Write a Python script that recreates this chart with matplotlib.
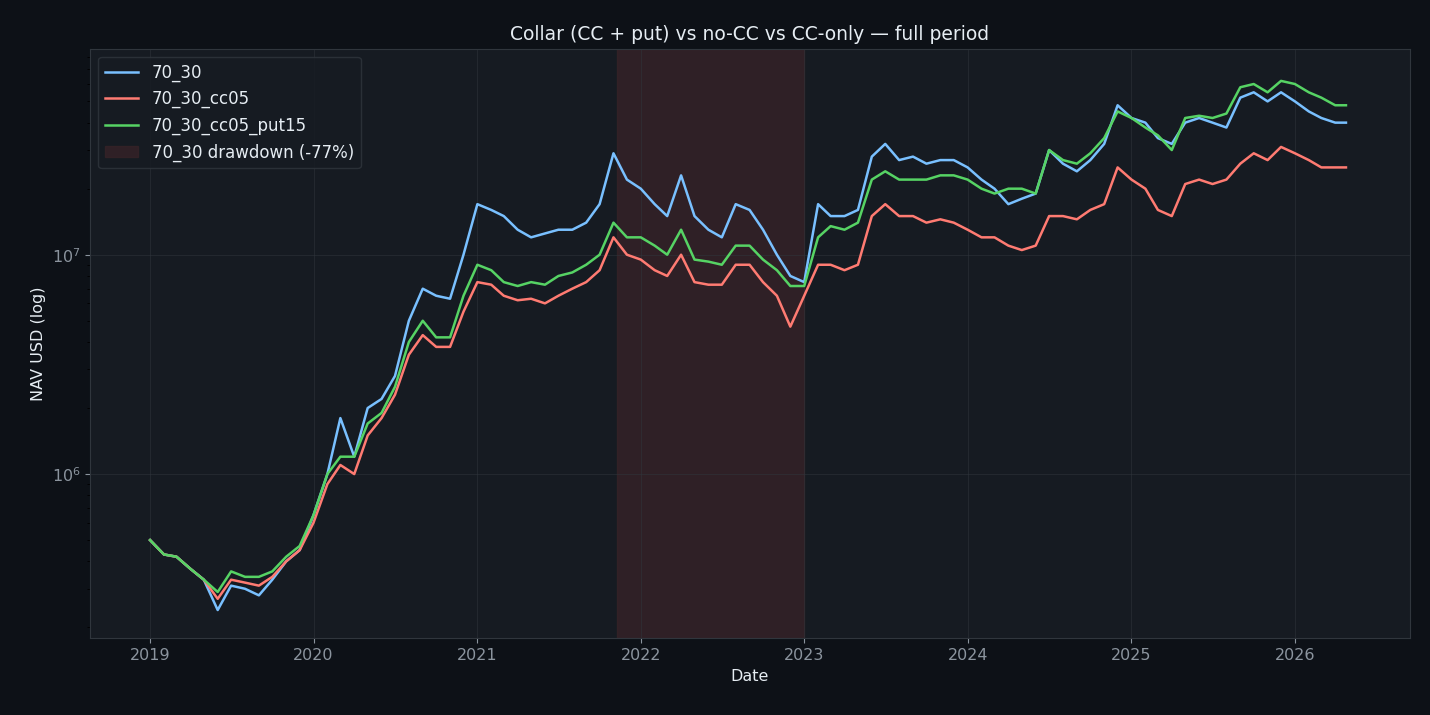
import matplotlib
matplotlib.use("Agg")
import matplotlib.pyplot as plt
import pandas as pd
import numpy as np

start = "2019-01-01"
nav_70_30 = [0.5,0.43,0.42,0.37,0.33,0.24,0.31,0.30,0.28,0.33,0.40,0.45,
             0.65,1.0,1.8,1.2,2.0,2.2,2.8,5.0,7.0,6.5,6.3,10,
             17,16,15,13,12,12.5,13,13,14,17,29,22,
             20,17,15,23,15,13,12,17,16,13,10,8,
             7.5,17,15,15,16,28,32,27,28,26,27,27,
             25,22,20,17,18,19,30,26,24,27,32,48,
             42,40,34,32,40,42,40,38,52,55,50,55,
             50,45,42,40,40]
nav_cc05 = [0.5,0.43,0.42,0.37,0.33,0.27,0.33,0.32,0.31,0.34,0.40,0.45,
            0.6,0.9,1.1,1.0,1.5,1.8,2.3,3.5,4.3,3.8,3.8,5.5,
            7.5,7.3,6.5,6.2,6.3,6.0,6.5,7,7.5,8.5,12,10,
            9.5,8.5,8,10,7.5,7.3,7.3,9,9,7.5,6.5,4.7,
            6.5,9,9,8.5,9,15,17,15,15,14,14.5,14,
            13,12,12,11,10.5,11,15,15,14.5,16,17,25,
            22,20,16,15,21,22,21,22,26,29,27,31,
            29,27,25,25,25]
nav_put15 = [0.5,0.43,0.42,0.37,0.33,0.29,0.36,0.34,0.34,0.36,0.42,0.47,
             0.65,1.0,1.2,1.2,1.7,1.9,2.5,4.0,5.0,4.2,4.2,6.5,
             9,8.5,7.5,7.2,7.5,7.3,8,8.3,9,10,14,12,
             12,11,10,13,9.5,9.3,9,11,11,9.5,8.5,7.2,
             7.2,12,13.5,13,14,22,24,22,22,22,23,23,
             22,20,19,20,20,19,30,27,26,29,34,45,
             42,38,35,30,42,43,42,44,58,60,55,62,
             60,55,52,48,48]
dd_start, dd_end = "2021-11-08", "2023-01-01"

dates = pd.date_range(start, periods=len(nav_70_30), freq="MS")
dates = dates[:-1].append(pd.DatetimeIndex([pd.Timestamp("2026-04-25")]))
bg = "#0d1117"; ax_bg = "#161b22"; fg = "#e6edf3"; tick = "#8b949e"
fig, ax = plt.subplots(figsize=(14.3, 7.15), dpi=100)
fig.patch.set_facecolor(bg); ax.set_facecolor(ax_bg)
ax.axvspan(pd.Timestamp(dd_start), pd.Timestamp(dd_end), color="#3a2328", alpha=0.7,
           label="70_30 drawdown (-77%)")
ax.plot(dates, np.array(nav_70_30)*1e6, color="#79c0ff", lw=1.8, label="70_30")
ax.plot(dates, np.array(nav_cc05)*1e6, color="#ff7b72", lw=1.8, label="70_30_cc05")
ax.plot(dates, np.array(nav_put15)*1e6, color="#56d364", lw=1.8, label="70_30_cc05_put15")
ax.set_yscale("log")
ax.set_ylim(1.78e5, 8.7e7)
ax.set_xlim(pd.Timestamp("2018-08-20"), pd.Timestamp("2026-09-15"))
ax.grid(True, color="#30363d", lw=0.6, alpha=0.6)
for s in ax.spines.values(): s.set_color("#30363d")
ax.tick_params(colors=tick, labelsize=11.5)
ax.set_xlabel("Date", color=fg, fontsize=11.5)
ax.set_ylabel("NAV USD (log)", color=fg, fontsize=11.5)
ax.set_title("Collar (CC + put) vs no-CC vs CC-only — full period", color=fg, fontsize=13.5)
h, l = ax.get_legend_handles_labels()
order = [1, 2, 3, 0]
leg = ax.legend([h[i] for i in order], [l[i] for i in order], loc="upper left",
                facecolor=ax_bg, edgecolor="#30363d", fontsize=12)
for t in leg.get_texts(): t.set_color(fg)
plt.subplots_adjust(left=0.063, right=0.986, top=0.932, bottom=0.107)
fig.savefig("out.png", facecolor=bg)
